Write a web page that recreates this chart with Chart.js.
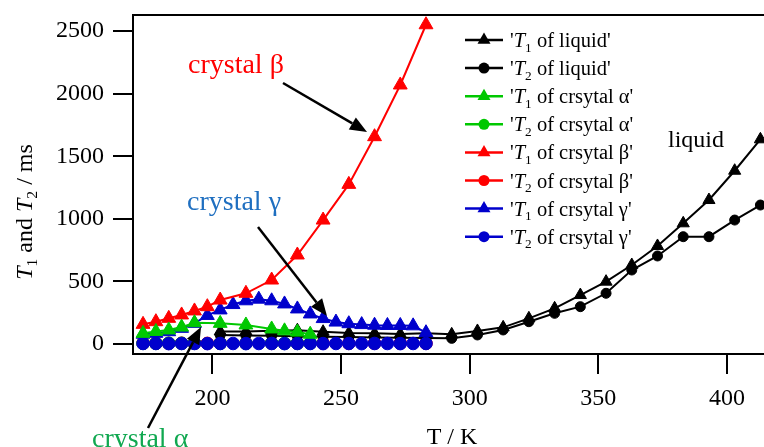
<!DOCTYPE html>
<html>
<head>
<meta charset="utf-8">
<script src="https://cdn.jsdelivr.net/npm/chart.js@4.4.1/dist/chart.umd.min.js"></script>
<style>
  html, body { margin: 0; padding: 0; background: #fff; }
  #wrap { width: 764px; height: 447px; position: relative; }
</style>
</head>
<body>
<div id="wrap"><canvas id="c" width="764" height="447"></canvas></div>
<script>
// Relaxation times T1 / T2 (ms) versus temperature (K)
const liquidT  = [203, 213, 223, 233, 243, 253, 263, 273, 283, 293, 303, 313, 323, 333, 343, 353, 363, 373, 383, 393, 403, 413];
const liquidT1 = [100, 100, 105, 110, 98, 88, 85, 80, 85, 77, 104, 133, 205, 285, 391, 498, 631, 783, 964, 1150, 1384, 1635];
const liquidT2 = [72, 68, 65, 62, 58, 55, 52, 50, 48, 45, 72, 112, 178, 245, 298, 405, 591, 703, 857, 857, 990, 1110];

const alphaT  = [173, 178, 183, 188, 193, 203, 213, 223, 228, 233, 238];
const alphaT1 = [85, 100, 112, 135, 170, 165, 152, 120, 105, 95, 78];
const alphaT2 = [5, 5, 6, 5, 6, 5, 5, 6, 5, 5, 6];

const betaT  = [173, 178, 183, 188, 193, 198, 203, 213, 223, 233, 243, 253, 263, 273, 283];
const betaT1 = [157, 178, 205, 232, 264, 298, 351, 405, 511, 711, 990, 1275, 1656, 2069, 2550];
const betaT2 = [6, 6, 5, 6, 6, 5, 6, 6, 5, 6, 6, 5, 6, 6, 5];

const gammaT  = [173, 178, 183, 188, 193, 198, 203, 208, 213, 218, 223, 228, 233, 238, 243, 248, 253, 258, 263, 268, 273, 278, 283];
const gammaT1 = [78, 85, 98, 125, 165, 228, 272, 315, 345, 358, 345, 320, 280, 240, 203, 175, 162, 155, 150, 148, 148, 145, 90];
const gammaT2 = [4, 4, 3, 4, 4, 3, 4, 4, 3, 4, 4, 3, 4, 4, 3, 4, 4, 3, 4, 4, 3, 4, 4];

const xTicks = [200, 250, 300, 350, 400];
const yTicks = [0, 500, 1000, 1500, 2000, 2500];

const RED = '#ff0000', GREEN = '#00c800', BLUE = '#0000cc', BLACK = '#000000';
const SERIF = '"Liberation Serif", "Times New Roman", serif';

function pts(xs, ys) { return xs.map((x, i) => ({ x: x, y: ys[i] })); }

function series(label, sub, xs, ys, color, style, radius, order) {
  return {
    label: label, sub: sub,
    data: pts(xs, ys),
    borderColor: color, backgroundColor: color,
    pointBackgroundColor: color, pointBorderColor: color,
    pointStyle: style, pointRadius: radius, pointBorderWidth: 1,
    borderWidth: 2, tension: 0, fill: false, order: order
  };
}

const datasets = [
  series(" of liquid'", '1', liquidT, liquidT1, BLACK, 'triangle', 7, 4),
  series(" of liquid'", '2', liquidT, liquidT2, BLACK, 'circle', 5, 5),
  series(" of crsytal \u03B1'", '1', alphaT, alphaT1, GREEN, 'triangle', 8, 0),
  series(" of crsytal \u03B1'", '2', alphaT, alphaT2, GREEN, 'circle', 6.3, 6),
  series(" of crsytal \u03B2'", '1', betaT, betaT1, RED, 'triangle', 8, 1),
  series(" of crsytal \u03B2'", '2', betaT, betaT2, RED, 'circle', 6.3, 7),
  series(" of crsytal \u03B3'", '1', gammaT, gammaT1, BLUE, 'triangle', 8, 3),
  series(" of crsytal \u03B3'", '2', gammaT, gammaT2, BLUE, 'circle', 6.3, 2)
];

// Text with italic T and subscript digits
function richWidth(ctx, parts, size) {
  let w = 0;
  parts.forEach(p => {
    ctx.font = (p.it ? 'italic ' : '') + (p.sub ? size * 0.65 : size) + 'px ' + SERIF;
    w += ctx.measureText(p.t).width;
  });
  return w;
}
function drawRich(ctx, parts, x, y, size, color) {
  ctx.fillStyle = color;
  ctx.textBaseline = 'alphabetic';
  ctx.textAlign = 'left';
  parts.forEach(p => {
    ctx.font = (p.it ? 'italic ' : '') + (p.sub ? size * 0.65 : size) + 'px ' + SERIF;
    ctx.fillText(p.t, x, p.sub ? y + size * 0.22 : y);
    x += ctx.measureText(p.t).width;
  });
}

function marker(ctx, style, x, y, r, color) {
  ctx.fillStyle = color;
  ctx.beginPath();
  if (style === 'triangle') {
    ctx.moveTo(x, y - r);
    ctx.lineTo(x + r * Math.sin(2 * Math.PI / 3), y + r / 2);
    ctx.lineTo(x - r * Math.sin(2 * Math.PI / 3), y + r / 2);
    ctx.closePath();
  } else {
    ctx.arc(x, y, r, 0, Math.PI * 2);
  }
  ctx.fill();
}

function arrow(ctx, x1, y1, x2, y2) {
  const a = Math.atan2(y2 - y1, x2 - x1);
  const L = 17, W = 7;
  const bx = x2 - L * Math.cos(a), by = y2 - L * Math.sin(a);
  ctx.strokeStyle = '#000';
  ctx.lineWidth = 2.5;
  ctx.beginPath();
  ctx.moveTo(x1, y1);
  ctx.lineTo(bx, by);
  ctx.stroke();
  ctx.fillStyle = '#000';
  ctx.beginPath();
  ctx.moveTo(x2, y2);
  ctx.lineTo(bx + W * Math.sin(a), by - W * Math.cos(a));
  ctx.lineTo(bx - W * Math.sin(a), by + W * Math.cos(a));
  ctx.closePath();
  ctx.fill();
}

const decorations = {
  id: 'decorations',
  afterDraw(chart) {
    const ctx = chart.ctx;
    const area = chart.chartArea;
    ctx.save();

    // top edge of the frame
    ctx.strokeStyle = '#000';
    ctx.lineWidth = 2;
    ctx.beginPath();
    ctx.moveTo(area.left - 1, area.top);
    ctx.lineTo(area.right, area.top);
    ctx.stroke();

    // legend
    chart.data.datasets.forEach((ds, i) => {
      const y = 40 + 28.1 * i;
      ctx.strokeStyle = ds.borderColor;
      ctx.lineWidth = 2.5;
      ctx.beginPath();
      ctx.moveTo(465, y);
      ctx.lineTo(503, y);
      ctx.stroke();
      marker(ctx, ds.pointStyle, 484, y, ds.pointStyle === 'triangle' ? 7.5 : 5.5, ds.borderColor);
      drawRich(ctx, [{ t: "'" }, { t: 'T', it: true }, { t: ds.sub, sub: true }, { t: ds.label }], 510, y + 7, 20.5, '#000');
    });

    // labels
    ctx.textBaseline = 'alphabetic';
    ctx.textAlign = 'left';
    ctx.font = '28px ' + SERIF;
    ctx.fillStyle = RED;
    ctx.fillText('crystal \u03B2', 188, 73);
    ctx.fillStyle = '#1f6fc0';
    ctx.fillText('crystal \u03B3', 187, 210);
    ctx.fillStyle = '#10a850';
    ctx.fillText('crystal \u03B1', 92, 447);
    ctx.font = '24px ' + SERIF;
    ctx.fillStyle = '#000';
    ctx.fillText('liquid', 668, 147);

    // arrows
    arrow(ctx, 283, 83, 367, 132);
    arrow(ctx, 258, 227, 327, 316);
    arrow(ctx, 148, 428, 201, 327);

    // axis titles
    ctx.font = '24px ' + SERIF;
    ctx.fillStyle = '#000';
    ctx.textAlign = 'center';
    ctx.fillText('T / K', 452, 444);

    const yParts = [{ t: 'T', it: true }, { t: '1', sub: true }, { t: ' and ' }, { t: 'T', it: true }, { t: '2', sub: true }, { t: ' / ms' }];
    const w = richWidth(ctx, yParts, 24);
    ctx.translate(32, 212);
    ctx.rotate(-Math.PI / 2);
    drawRich(ctx, yParts, -w / 2, 0, 24, '#000');
    ctx.restore();
  }
};

new Chart(document.getElementById('c'), {
  type: 'line',
  data: { datasets: datasets },
  options: {
    responsive: false,
    animation: false,
    devicePixelRatio: 1,
    layout: { autoPadding: false, padding: { top: 15, right: 0, left: 0, bottom: 0 } },
    plugins: { legend: { display: false }, tooltip: { enabled: false } },
    scales: {
      x: {
        type: 'linear',
        min: 169.1, max: 414.4,
        afterFit(s) { s.height = 93; s.paddingLeft = 0; s.paddingRight = 0; },
        afterBuildTicks(s) { s.ticks = xTicks.map(v => ({ value: v })); },
        grid: { drawOnChartArea: false, drawTicks: true, tickLength: 20, color: '#000', lineWidth: 2 },
        border: { display: true, color: '#000', width: 2 },
        ticks: { color: '#000', font: { family: SERIF, size: 24 }, padding: 10, maxRotation: 0, autoSkip: false,
                 callback: v => String(v) }
      },
      y: {
        type: 'linear',
        min: -80, max: 2628,
        afterFit(s) { s.width = 133; s.paddingTop = 0; s.paddingBottom = 0; },
        afterBuildTicks(s) { s.ticks = yTicks.map(v => ({ value: v })); },
        grid: { drawOnChartArea: false, drawTicks: true, tickLength: 20, color: '#000', lineWidth: 2 },
        border: { display: true, color: '#000', width: 2 },
        ticks: { color: '#000', font: { family: SERIF, size: 24 }, padding: 9, autoSkip: false,
                 callback: v => String(v) }
      }
    }
  },
  plugins: [decorations]
});
</script>
</body>
</html>
